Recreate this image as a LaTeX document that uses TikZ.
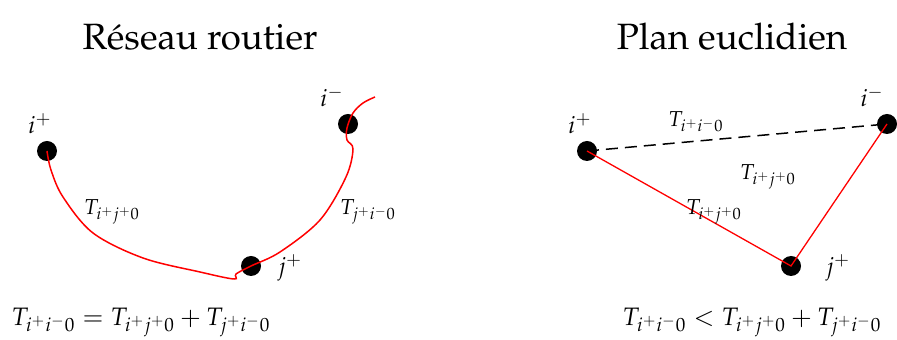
\documentclass[tikz,border=0pt]{standalone}
\usepackage[T1]{fontenc}
\usepackage{mathpazo}
\usetikzlibrary{positioning}
\tikzset{
  dot/.style={circle, fill=black, inner sep=0pt, minimum size=10pt},
  vname/.style={font=\fontsize{12}{14}\selectfont},
  title/.style={font=\fontsize{18.3}{22}\selectfont},
  cost/.style={font=\fontsize{10.8}{13}\selectfont},
  eqn/.style={font=\fontsize{12.6}{15}\selectfont},
  road/.style={draw=red, line width=0.75pt},
  edge/.style={draw=red, line width=0.65pt},
  crow/.style={draw=black, line width=0.75pt, dash pattern=on 6pt off 3.5pt},
}
\begin{document}
\begin{tikzpicture}[x=0.5pt, y=-0.5pt]
  \useasboundingbox (0,0) rectangle (897,340);
  % road network
  \node[title] (t1) at (200,37) {R\'eseau routier};
  \node[dot] (ip) at (47,151) {};
  \node[dot] (jp) at (251,266) {};
  \node[dot] (im) at (348,124) {};
  \coordinate (rend) at (375,97);
  \node[vname] (lip) at (40,124) {$i^+$};
  \node[vname] (ljp) at (290,268) {$j^+$};
  \node[vname] (lim) at (332,97) {$i^-$};
  \draw[road] plot[smooth, tension=0.55] coordinates {(ip.center) (51,170) (63,197) (93,233) (143,258) (200,272) (234,279) (236,274) (jp.center) (280,252) (320,220) (346,177) (353,149) (347,140) (347,128) (353,113) (363,103) (rend)};
  \node[cost] (c1) at (112,212) {$T_{i^+j^+0}$};
  \node[cost] (c2) at (368,212) {$T_{j^+i^-0}$};
  \node[eqn] (eq1) at (141,322) {$T_{i^+i^-0} = T_{i^+j^+0} + T_{j^+i^-0}$};
  % euclidean plane
  \node[title] (t2) at (732,37) {Plan euclidien};
  \node[dot] (ip2) at (587,151) {};
  \node[dot] (jp2) at (791,266) {};
  \node[dot] (im2) at (887,124) {};
  \node[vname] (lip2) at (580,124) {$i^+$};
  \node[vname] (ljp2) at (838,268) {$j^+$};
  \node[vname] (lim2) at (872,97) {$i^-$};
  \draw[crow] (ip2.center) -- (im2.center);
  \draw[edge] (ip2.center) -- (jp2.center) -- (im2.center);
  \node[cost] (c3) at (696,122) {$T_{i^+i^-0}$};
  \node[cost] (c4) at (768,177) {$T_{i^+j^+0}$};
  \node[cost] (c5) at (714,212) {$T_{i^+j^+0}$};
  \node[eqn] (eq2) at (752,322) {$T_{i^+i^-0} < T_{i^+j^+0} + T_{j^+i^-0}$};
\end{tikzpicture}
\end{document}
